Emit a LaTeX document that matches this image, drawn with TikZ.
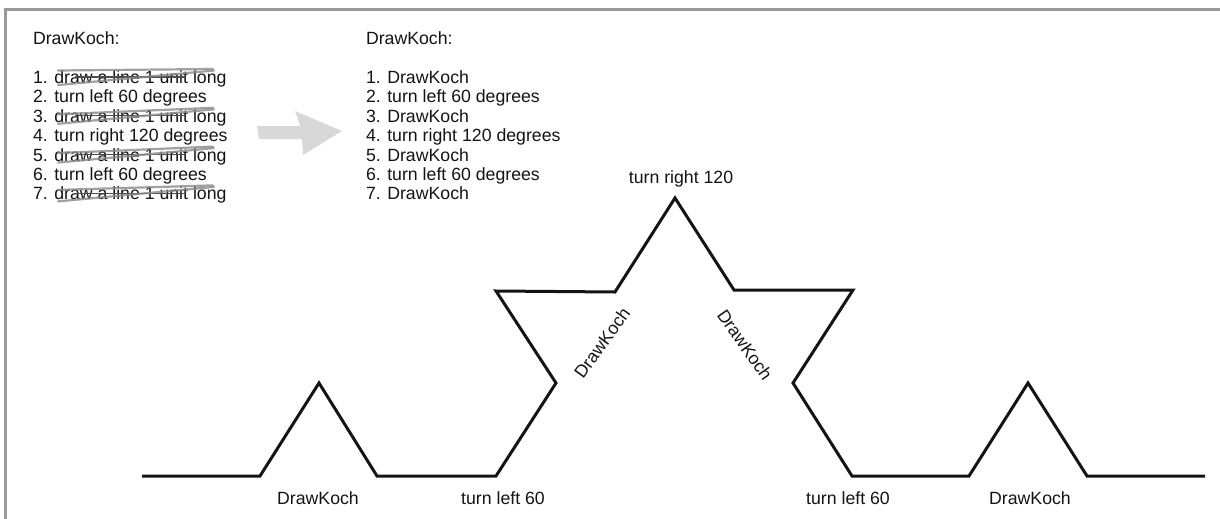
\documentclass[tikz,border=0pt]{standalone}
\usepackage{fontspec}
\setmainfont{Liberation Sans}
\definecolor{txt}{HTML}{141414}
\definecolor{frame}{HTML}{9A9A9A}
\definecolor{arrowgray}{HTML}{D8D8D8}
\definecolor{scribble}{HTML}{8A8A8A}
\begin{document}
\begin{tikzpicture}[x=1pt,y=-1pt,
  every node/.style={inner sep=0pt,outer sep=0pt,text=txt,font=\fontsize{17.7}{19.4}\selectfont},
  listline/.style={anchor=base west},
  lbl/.style={anchor=base},
  rlbl/.style={anchor=center},
  koch/.style={line width=3pt,draw=black!92,line join=miter},
  scrib/.style={draw=scribble,line width=2.2pt,line cap=round,opacity=0.8},
  strike/.style={draw=black!70,line width=1.2pt}
]
\useasboundingbox (0,0) rectangle (1220,519);
\fill[white] (0,0) rectangle (1220,519);
% frame
\draw[frame,line width=3pt] (5.5,519) -- (5.5,10) -- (1220,10);

% left list
\node[listline] (lt) at (33,45) {DrawKoch:};
\node[listline] (l1) at (33,83.5) {1. draw a line 1 unit long};
\node[listline] (l2) at (33,102.9) {2. turn left 60 degrees};
\node[listline] (l3) at (33,122.3) {3. draw a line 1 unit long};
\node[listline] (l4) at (33,141.7) {4. turn right 120 degrees};
\node[listline] (l5) at (33,161.1) {5. draw a line 1 unit long};
\node[listline] (l6) at (33,180.5) {6. turn left 60 degrees};
\node[listline] (l7) at (33,199.9) {7. draw a line 1 unit long};

% scribbles over "draw a line 1 unit long"
\foreach \bl/\tp in {83.5/13,122.3/8,161.1/8,199.9/10}{
  \draw[strike] ({75},{\bl-6.5}) -- ({185},{\bl-6.5});
  \draw[scrib] ({58},{\bl-\tp}) -- ({213},{\bl-14.5});
  \draw[scrib] ({58},{\bl+1.5}) -- ({214},{\bl-13});
}

% arrow
\fill[arrowgray] (257,126) -- (300,126) -- (295,111) -- (342,131) -- (303,155) -- (302,139) -- (259,139) -- cycle;

% right list
\node[listline] (rt) at (366,45) {DrawKoch:};
\node[listline] (r1) at (366,83.5) {1. DrawKoch};
\node[listline] (r2) at (366,102.9) {2. turn left 60 degrees};
\node[listline] (r3) at (366,122.3) {3. DrawKoch};
\node[listline] (r4) at (366,141.7) {4. turn right 120 degrees};
\node[listline] (r5) at (366,161.1) {5. DrawKoch};
\node[listline] (r6) at (366,180.5) {6. turn left 60 degrees};
\node[listline] (r7) at (366,199.9) {7. DrawKoch};

% Koch curve
\coordinate (p0) at (142,476);
\coordinate (p1) at (260,476);
\coordinate (p2) at (319,383);
\coordinate (p3) at (377,476);
\coordinate (p4) at (496,476);
\coordinate (p5) at (556,383);
\coordinate (p6) at (496,291);
\coordinate (p7) at (615,292);
\coordinate (p8) at (675,198);
\coordinate (p9) at (734,290);
\coordinate (p10) at (853,290);
\coordinate (p11) at (793,383);
\coordinate (p12) at (852,476);
\coordinate (p13) at (969,476);
\coordinate (p14) at (1028,383);
\coordinate (p15) at (1087,476);
\coordinate (p16) at (1205,476);
\draw[koch] (p0) -- (p1) -- (p2) -- (p3) -- (p4) -- (p5) -- (p6) -- (p7) -- (p8) -- (p9) -- (p10) -- (p11) -- (p12) -- (p13) -- (p14) -- (p15) -- (p16);

% labels
\node[lbl] (k1) at (318,504) {DrawKoch};
\node[lbl] (t1) at (503,504) {turn left 60};
\node[lbl] (t2) at (848,504) {turn left 60};
\node[lbl] (k2) at (1030,504) {DrawKoch};
\node[lbl] (tr) at (681,183) {turn right 120};
\node[rlbl,rotate=54] (k3) at (602,343) {DrawKoch};
\node[rlbl,rotate=-55] (k4) at (745,345) {DrawKoch};
\end{tikzpicture}
\end{document}
